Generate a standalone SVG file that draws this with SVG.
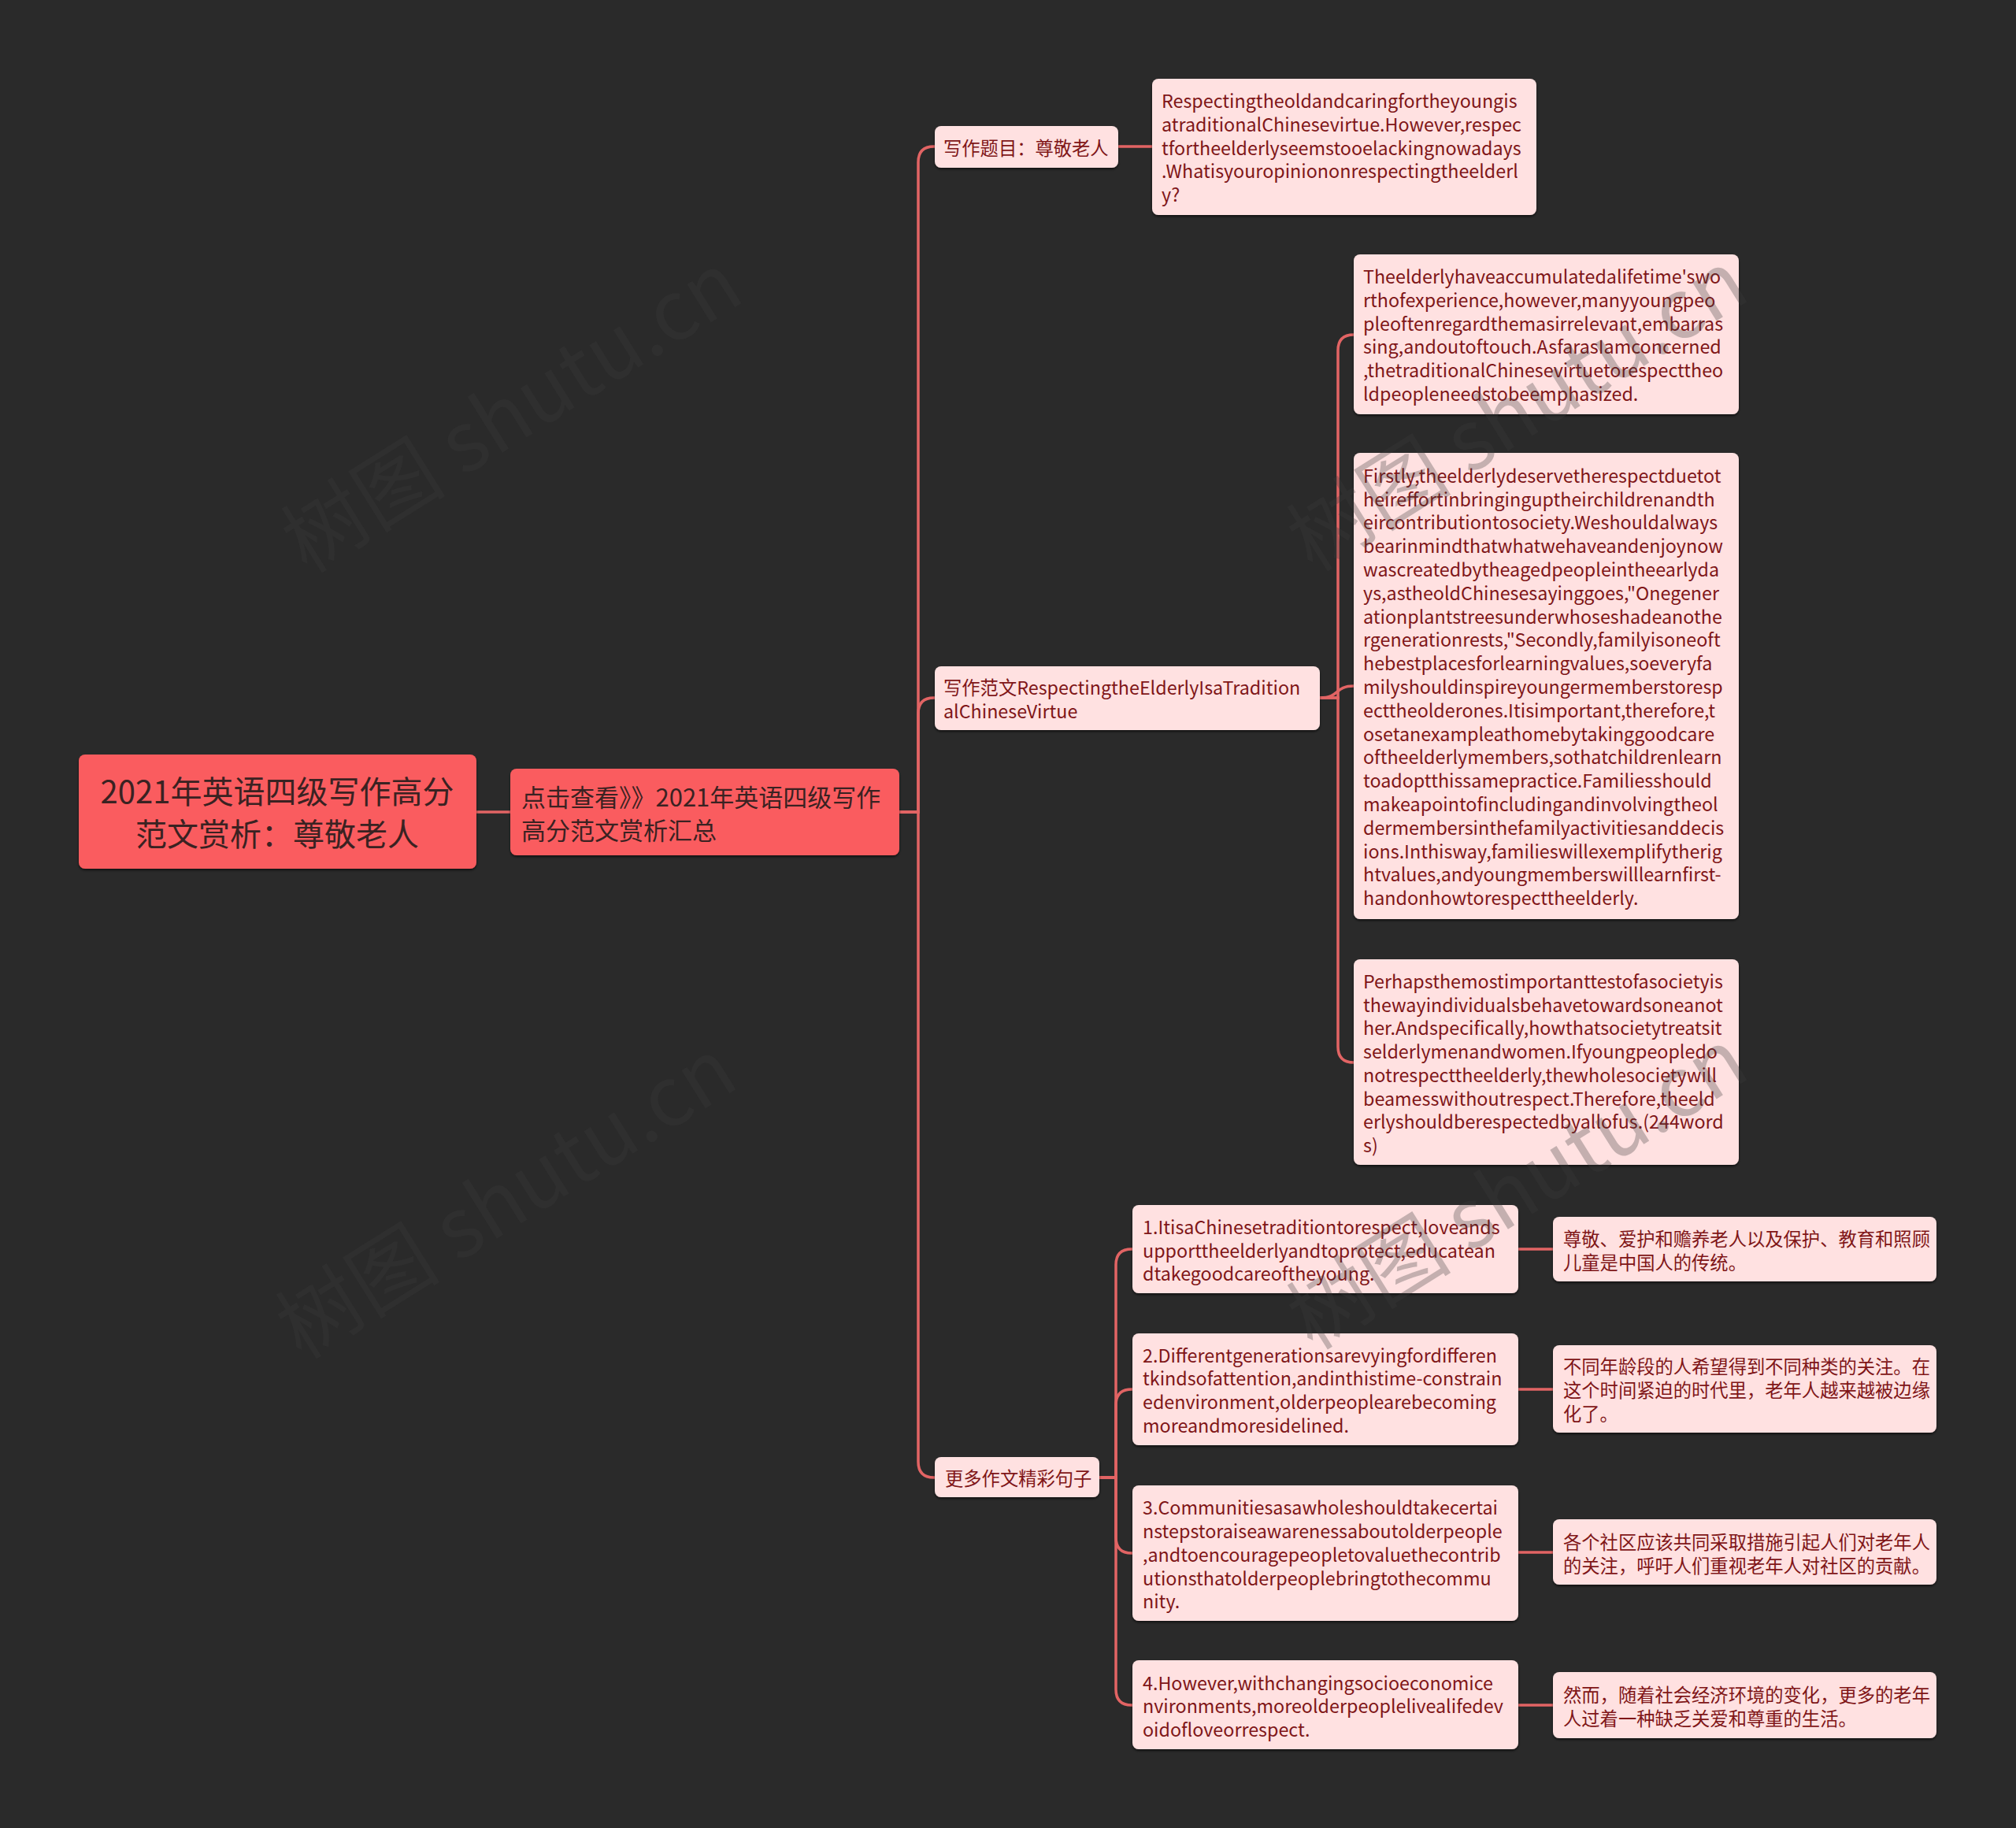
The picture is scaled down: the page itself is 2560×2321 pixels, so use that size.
<svg xmlns="http://www.w3.org/2000/svg" width="2560" height="2321" viewBox="0 0 2560 2321">
<defs>
<filter id="sh" x="-5%" y="-5%" width="110%" height="115%">
<feDropShadow dx="0" dy="2" stdDeviation="1.5" flood-color="#000" flood-opacity="0.6"/>
</filter>
<style>
.conn{fill:none;stroke:#E26464;stroke-width:3.5;stroke-linecap:round}
.red{fill:#FA5B5E}
.pink{fill:#FFE1E1}
.t{font-family:"Noto Sans CJK SC","Liberation Sans",sans-serif;font-size:23.3px;fill:#7F1618;dominant-baseline:central}
.rt{font-family:"Noto Sans CJK SC","Liberation Sans",sans-serif;font-size:40px;fill:#3A2222;dominant-baseline:central;text-anchor:middle}
.n2t{font-family:"Noto Sans CJK SC","Liberation Sans",sans-serif;font-size:31px;fill:#3A2222;dominant-baseline:central}
.wm{font-family:"Noto Sans CJK SC","Liberation Sans",sans-serif;font-size:105px;fill:#3C3C3C;fill-opacity:0.3;text-anchor:middle;dominant-baseline:central}
</style>
</defs>
<rect width="2560" height="2321" fill="#2A2A2A"/>

<g id="connectors">
<path class="conn" d="M605 1031 H648"/>
<path class="conn" d="M1142 1031 H1166 V206 Q1166 186 1186 186 H1187"/>
<path class="conn" d="M1142 1031 H1166 V906 Q1166 886 1186 886 H1187"/>
<path class="conn" d="M1142 1031 H1166 V1856 Q1166 1876 1186 1876 H1187"/>
<path class="conn" d="M1420 186 H1463"/>
<path class="conn" d="M1676 886 H1699 V445 Q1699 425 1719 425"/>
<path class="conn" d="M1676 886 C1702 886 1694 871 1719 871"/>
<path class="conn" d="M1676 886 H1699 V1329 Q1699 1349 1719 1349"/>
<path class="conn" d="M1396 1876 H1417 V1606 Q1417 1586 1437 1586 H1438"/>
<path class="conn" d="M1396 1876 H1417 V1784 Q1417 1764 1437 1764 H1438"/>
<path class="conn" d="M1396 1876 H1417 V1952 Q1417 1972 1437 1972 H1438"/>
<path class="conn" d="M1396 1876 H1417 V2145 Q1417 2165 1437 2165 H1438"/>
<path class="conn" d="M1928 1586 H1972"/>
<path class="conn" d="M1928 1764 H1972"/>
<path class="conn" d="M1928 1971 H1972"/>
<path class="conn" d="M1928 2165 H1972"/>
</g>

<g id="root">
<rect class="red" filter="url(#sh)" x="100" y="958" width="505" height="145" rx="8"/>
<text class="rt" x="352" y="1003">2021年英语四级写作高分</text>
<text class="rt" x="352" y="1057">范文赏析：尊敬老人</text>
</g>

<g id="node-summary">
<rect class="red" filter="url(#sh)" x="648" y="976" width="494" height="110" rx="8"/>
<text class="n2t" x="662" y="1010">点击查看》》2021年英语四级写作</text>
<text class="n2t" x="662" y="1052">高分范文赏析汇总</text>
</g>

<g id="node-topic">
<rect class="pink" filter="url(#sh)" x="1187" y="160" width="233" height="53" rx="8"/>
<text class="t" x="1198" y="186.5">写作题目：尊敬老人</text>
</g>

<g id="node-topic-text">
<rect class="pink" filter="url(#sh)" x="1463" y="100" width="488" height="173" rx="8"/>
<text class="t" x="1475" y="127">Respectingtheoldandcaringfortheyoungis</text>
<text class="t" x="1475" y="157">atraditionalChinesevirtue.However,respec</text>
<text class="t" x="1475" y="186.5">tfortheelderlyseemstooelackingnowadays</text>
<text class="t" x="1475" y="216">.Whatisyouropiniononrespectingtheelderl</text>
<text class="t" x="1475" y="246">y?</text>
</g>

<g id="node-essay">
<rect class="pink" filter="url(#sh)" x="1187" y="846" width="489" height="81" rx="8"/>
<text class="t" x="1198" y="872">写作范文RespectingtheElderlyIsaTradition</text>
<text class="t" x="1198" y="901.5">alChineseVirtue</text>
</g>

<g id="node-essay-1">
<rect class="pink" filter="url(#sh)" x="1719" y="323" width="489" height="203" rx="8"/>
<text class="t" x="1731" y="350">Theelderlyhaveaccumulatedalifetime'swo</text>
<text class="t" x="1731" y="380">rthofexperience,however,manyyoungpeo</text>
<text class="t" x="1731" y="410">pleoftenregardthemasirrelevant,embarras</text>
<text class="t" x="1731" y="439">sing,andoutoftouch.AsfarasIamconcerned</text>
<text class="t" x="1731" y="469">,thetraditionalChinesevirtuetorespecttheo</text>
<text class="t" x="1731" y="499">ldpeopleneedstobeemphasized.</text>
</g>

<g id="node-essay-2">
<rect class="pink" filter="url(#sh)" x="1719" y="575" width="489" height="592" rx="8"/>
<text class="t" x="1731" y="603">Firstly,theelderlydeservetherespectduetot</text>
<text class="t" x="1731" y="633">heireffortinbringinguptheirchildrenandth</text>
<text class="t" x="1731" y="662">eircontributiontosociety.Weshouldalways</text>
<text class="t" x="1731" y="692">bearinmindthatwhatwehaveandenjoynow</text>
<text class="t" x="1731" y="722">wascreatedbytheagedpeopleintheearlyda</text>
<text class="t" x="1731" y="752">ys,astheoldChinesesayinggoes,"Onegener</text>
<text class="t" x="1731" y="782">ationplantstreesunderwhoseshadeanothe</text>
<text class="t" x="1731" y="811">rgenerationrests,"Secondly,familyisoneoft</text>
<text class="t" x="1731" y="841">hebestplacesforlearningvalues,soeveryfa</text>
<text class="t" x="1731" y="871">milyshouldinspireyoungermemberstoresp</text>
<text class="t" x="1731" y="901">ecttheolderones.Itisimportant,therefore,t</text>
<text class="t" x="1731" y="931">osetanexampleathomebytakinggoodcare</text>
<text class="t" x="1731" y="960">oftheelderlymembers,sothatchildrenlearn</text>
<text class="t" x="1731" y="990">toadoptthissamepractice.Familiesshould</text>
<text class="t" x="1731" y="1020">makeapointofincludingandinvolvingtheol</text>
<text class="t" x="1731" y="1050">dermembersinthefamilyactivitiesanddecis</text>
<text class="t" x="1731" y="1080">ions.Inthisway,familieswillexemplifytherig</text>
<text class="t" x="1731" y="1109">htvalues,andyoungmemberswilllearnfirst-</text>
<text class="t" x="1731" y="1139">handonhowtorespecttheelderly.</text>
</g>

<g id="node-essay-3">
<rect class="pink" filter="url(#sh)" x="1719" y="1218" width="489" height="261" rx="8"/>
<text class="t" x="1731" y="1244.5">Perhapsthemostimportanttestofasocietyis</text>
<text class="t" x="1731" y="1274.5">thewayindividualsbehavetowardsoneanot</text>
<text class="t" x="1731" y="1304">her.Andspecifically,howthatsocietytreatsit</text>
<text class="t" x="1731" y="1334">selderlymenandwomen.Ifyoungpeopledo</text>
<text class="t" x="1731" y="1364">notrespecttheelderly,thewholesocietywill</text>
<text class="t" x="1731" y="1393.5">beamesswithoutrespect.Therefore,theeld</text>
<text class="t" x="1731" y="1423">erlyshouldberespectedbyallofus.(244word</text>
<text class="t" x="1731" y="1453">s)</text>
</g>

<g id="node-more">
<rect class="pink" filter="url(#sh)" x="1187" y="1850" width="209" height="51" rx="8"/>
<text class="t" x="1200" y="1876">更多作文精彩句子</text>
</g>

<g id="node-s1">
<rect class="pink" filter="url(#sh)" x="1438" y="1530" width="490" height="112" rx="8"/>
<text class="t" x="1451" y="1557">1.ItisaChinesetraditiontorespect,loveands</text>
<text class="t" x="1451" y="1586.5">upporttheelderlyandtoprotect,educatean</text>
<text class="t" x="1451" y="1616">dtakegoodcareoftheyoung.</text>
</g>
<g id="node-s1-cn">
<rect class="pink" filter="url(#sh)" x="1972" y="1545" width="487" height="82" rx="8"/>
<text class="t" x="1985" y="1572">尊敬、爱护和赡养老人以及保护、教育和照顾</text>
<text class="t" x="1985" y="1601.5">儿童是中国人的传统。</text>
</g>

<g id="node-s2">
<rect class="pink" filter="url(#sh)" x="1438" y="1693" width="490" height="142" rx="8"/>
<text class="t" x="1451" y="1719.5">2.Differentgenerationsarevyingfordifferen</text>
<text class="t" x="1451" y="1749">tkindsofattention,andinthistime-constrain</text>
<text class="t" x="1451" y="1779">edenvironment,olderpeoplearebecoming</text>
<text class="t" x="1451" y="1809">moreandmoresidelined.</text>
</g>
<g id="node-s2-cn">
<rect class="pink" filter="url(#sh)" x="1972" y="1708" width="487" height="111" rx="8"/>
<text class="t" x="1985" y="1734">不同年龄段的人希望得到不同种类的关注。在</text>
<text class="t" x="1985" y="1763.5">这个时间紧迫的时代里，老年人越来越被边缘</text>
<text class="t" x="1985" y="1793.5">化了。</text>
</g>

<g id="node-s3">
<rect class="pink" filter="url(#sh)" x="1438" y="1886" width="490" height="172" rx="8"/>
<text class="t" x="1451" y="1913">3.Communitiesasawholeshouldtakecertai</text>
<text class="t" x="1451" y="1943">nstepstoraiseawarenessaboutolderpeople</text>
<text class="t" x="1451" y="1972.5">,andtoencouragepeopletovaluethecontrib</text>
<text class="t" x="1451" y="2002.5">utionsthatolderpeoplebringtothecommu</text>
<text class="t" x="1451" y="2032">nity.</text>
</g>
<g id="node-s3-cn">
<rect class="pink" filter="url(#sh)" x="1972" y="1929" width="487" height="83" rx="8"/>
<text class="t" x="1985" y="1957">各个社区应该共同采取措施引起人们对老年人</text>
<text class="t" x="1985" y="1986.5">的关注，呼吁人们重视老年人对社区的贡献。</text>
</g>

<g id="node-s4">
<rect class="pink" filter="url(#sh)" x="1438" y="2108" width="490" height="113" rx="8"/>
<text class="t" x="1451" y="2135.5">4.However,withchangingsocioeconomice</text>
<text class="t" x="1451" y="2165">nvironments,moreolderpeoplelivealifedev</text>
<text class="t" x="1451" y="2195">oidofloveorrespect.</text>
</g>
<g id="node-s4-cn">
<rect class="pink" filter="url(#sh)" x="1972" y="2123" width="487" height="84" rx="8"/>
<text class="t" x="1985" y="2151">然而，随着社会经济环境的变化，更多的老年</text>
<text class="t" x="1985" y="2180.5">人过着一种缺乏关爱和尊重的生活。</text>
</g>

<g id="watermarks">
<text class="wm" x="645" y="516" transform="rotate(-32 645 516)">树图 shutu.cn</text>
<text class="wm" x="638" y="1514" transform="rotate(-32 638 1514)">树图 shutu.cn</text>
<text class="wm" x="1922" y="514" transform="rotate(-32 1922 514)">树图 shutu.cn</text>
<text class="wm" x="1922" y="1502" transform="rotate(-32 1922 1502)">树图 shutu.cn</text>
</g>
</svg>
